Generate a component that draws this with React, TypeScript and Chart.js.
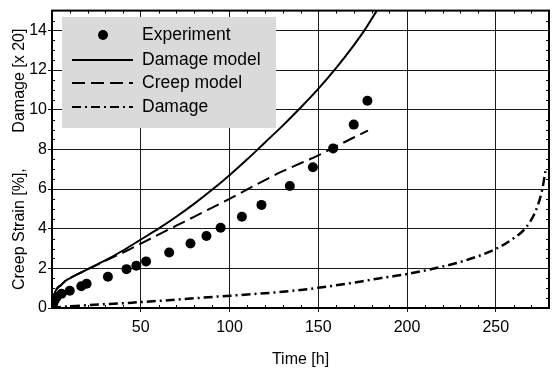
import React, { useEffect, useRef } from "react";
import { Chart, registerables } from "chart.js";

Chart.register(...registerables);

// ---- data ----
const experimentX = [0, 0.3, 0.8, 1.5, 2.6, 5.4, 10, 16.5, 19.5, 31.5, 42, 47.5, 53, 66, 78, 87, 95, 107, 118, 134, 147, 158.4, 170, 177.7];
const experimentY = [0, 0.1, 0.25, 0.4, 0.55, 0.72, 0.87, 1.1, 1.22, 1.58, 1.96, 2.13, 2.35, 2.8, 3.25, 3.63, 4.05, 4.6, 5.2, 6.15, 7.1, 8.05, 9.25, 10.45];

const damageModelX = [0, 0.5, 1, 2, 3, 5, 8, 10, 15, 20, 30, 40, 50, 60, 70, 80, 90, 100, 110, 120, 130, 140, 150, 160, 170, 176, 183];
const damageModelY = [0, 0.3, 0.55, 0.85, 1.0, 1.15, 1.4, 1.5, 1.73, 1.95, 2.4, 2.9, 3.45, 4.0, 4.6, 5.25, 5.95, 6.7, 7.5, 8.35, 9.2, 10.1, 11.05, 12.1, 13.25, 14.0, 15.0];

const creepModelX = [0, 0.5, 1, 2, 3, 5, 8, 10, 15, 20, 30, 40, 50, 60, 70, 80, 90, 100, 110, 120, 130, 140, 150, 160, 170, 178];
const creepModelY = [0, 0.3, 0.55, 0.85, 1.0, 1.15, 1.4, 1.5, 1.73, 1.95, 2.38, 2.8, 3.25, 3.7, 4.15, 4.6, 5.05, 5.5, 5.98, 6.45, 6.9, 7.3, 7.7, 8.15, 8.6, 8.95];

const damageX = [0, 5, 20, 45, 70, 92, 110, 130, 150, 175, 184, 200, 218, 233, 250, 259.5, 267, 272.5, 276, 278];
const damageY = [0, 0.05, 0.14, 0.27, 0.42, 0.57, 0.68, 0.82, 1.02, 1.35, 1.49, 1.71, 2.05, 2.4, 2.98, 3.48, 4.06, 4.9, 5.9, 6.9];

const xTickValues = [50, 100, 150, 200, 250];
const yTickValues = [0, 2, 4, 6, 8, 10, 12, 14];

const legendLabels = ["Experiment", "Damage model", "Creep model", "Damage"];
const xTitle = "Time [h]";
const yTitle = "Creep Strain [%],        Damage [x 20]";

const FONT = "'Liberation Sans', Arial, Helvetica, sans-serif";

const toPoints = (xs: number[], ys: number[]) => xs.map((x, i) => ({ x, y: ys[i] }));

const framePlugin = {
  id: "frame",
  afterDatasetsDraw(chart: any) {
    const { ctx, chartArea } = chart;
    const xs = chart.scales.x;
    const ys = chart.scales.y;
    ctx.save();
    // minor ticks on all four sides
    ctx.strokeStyle = "#000";
    ctx.lineWidth = 1;
    ctx.beginPath();
    for (let v = 10; v < 280; v += 10) {
      if (v % 50 === 0) continue;
      const px = Math.round(xs.getPixelForValue(v)) + 0.5;
      ctx.moveTo(px, chartArea.bottom);
      ctx.lineTo(px, chartArea.bottom - 3);
      ctx.moveTo(px, chartArea.top);
      ctx.lineTo(px, chartArea.top + 3);
    }
    for (let v = 0.5; v < 15; v += 0.5) {
      if (v % 2 === 0) continue;
      const py = Math.round(ys.getPixelForValue(v)) + 0.5;
      ctx.moveTo(chartArea.left, py);
      ctx.lineTo(chartArea.left + 3, py);
      ctx.moveTo(chartArea.right, py);
      ctx.lineTo(chartArea.right - 3, py);
    }
    ctx.stroke();

    // legend box
    const lx = 62, ly = 17, lw = 214, lh = 111;
    ctx.fillStyle = "#dadada";
    ctx.fillRect(lx, ly, lw, lh);
    const rows = [35, 60, 83, 107];
    ctx.fillStyle = "#000";
    ctx.strokeStyle = "#000";
    // experiment marker
    ctx.beginPath();
    ctx.arc(103, rows[0], 5, 0, Math.PI * 2);
    ctx.fill();
    const dashes = [[], [13, 6], [9, 4, 2, 4]];
    for (let i = 0; i < 3; i++) {
      ctx.beginPath();
      ctx.setLineDash(dashes[i]);
      ctx.lineWidth = 2;
      ctx.moveTo(72, rows[i + 1]);
      ctx.lineTo(133, rows[i + 1]);
      ctx.stroke();
    }
    ctx.setLineDash([]);
    ctx.font = `17.5px ${FONT}`;
    ctx.textBaseline = "middle";
    ctx.textAlign = "left";
    legendLabels.forEach((t, i) => ctx.fillText(t, 142, rows[i]));

    // plot frame
    ctx.lineWidth = 2;
    ctx.strokeRect(chartArea.left, chartArea.top, chartArea.right - chartArea.left, chartArea.bottom - chartArea.top);
    ctx.restore();
  },
};

export default function App() {
  const ref = useRef<HTMLCanvasElement | null>(null);
  useEffect(() => {
    if (!ref.current) return;
    const chart = new Chart(ref.current, {
      type: "scatter",
      data: {
        datasets: [
          {
            label: legendLabels[0],
            data: toPoints(experimentX, experimentY),
            showLine: false,
            pointRadius: 5,
            pointBorderWidth: 0,
            backgroundColor: "#000",
            borderColor: "#000",
          },
          {
            label: legendLabels[1],
            data: toPoints(damageModelX, damageModelY),
            showLine: true,
            pointRadius: 0,
            borderColor: "#000",
            borderWidth: 2,
            cubicInterpolationMode: "monotone",
          },
          {
            label: legendLabels[2],
            data: toPoints(creepModelX, creepModelY),
            showLine: true,
            pointRadius: 0,
            borderColor: "#000",
            borderWidth: 2,
            borderDash: [13, 6],
            cubicInterpolationMode: "monotone",
          },
          {
            label: legendLabels[3],
            data: toPoints(damageX, damageY),
            showLine: true,
            pointRadius: 0,
            borderColor: "#000",
            borderWidth: 2.5,
            borderDash: [9, 4, 2, 4],
            cubicInterpolationMode: "monotone",
          },
        ],
      },
      options: {
        responsive: false,
        animation: false,
        layout: { padding: { top: 8, right: 5, left: 0, bottom: 0 } },
        plugins: { legend: { display: false }, tooltip: { enabled: false } },
        scales: {
          x: {
            type: "linear",
            min: 0,
            max: 280,
            afterBuildTicks: (s: any) => {
              s.ticks = xTickValues.map((v) => ({ value: v }));
            },
            afterFit: (s: any) => {
              s.height = 64;
            },
            ticks: { color: "#000", font: { family: FONT, size: 16 }, padding: 6, maxRotation: 0 },
            grid: { color: "#1a1a1a", lineWidth: 1, drawTicks: true, tickLength: 4 },
            border: { display: true, color: "#000", width: 2 },
            title: { display: true, text: xTitle, color: "#000", font: { family: FONT, size: 16 }, padding: { top: 0, bottom: 3 } },
          },
          y: {
            type: "linear",
            min: 0,
            max: 15,
            afterBuildTicks: (s: any) => {
              s.ticks = yTickValues.map((v) => ({ value: v }));
            },
            afterFit: (s: any) => {
              s.width = 52;
            },
            ticks: { color: "#000", font: { family: FONT, size: 16 }, padding: 1 },
            grid: { color: "#1a1a1a", lineWidth: 1, drawTicks: true, tickLength: 4 },
            border: { display: true, color: "#000", width: 2 },
            title: { display: true, text: yTitle, color: "#000", font: { family: FONT, size: 16 }, padding: { top: 10, bottom: 0 } },
          },
        },
      },
      plugins: [framePlugin],
    } as any);
    return () => chart.destroy();
  }, []);
  return (
    <div style={{ position: "fixed", left: 0, top: 0, width: 554, height: 372, background: "#fff" }}>
      <canvas ref={ref} width={554} height={372} style={{ width: 554, height: 372, display: "block" }} />
    </div>
  );
}
